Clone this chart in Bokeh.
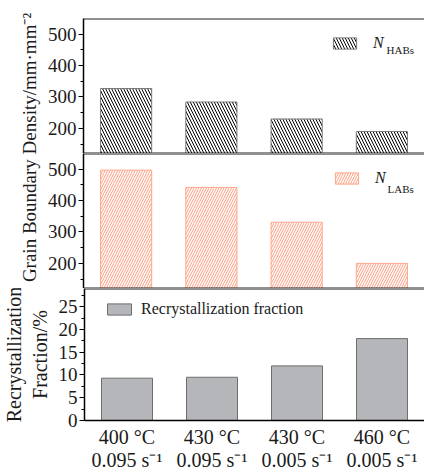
import math
from bokeh.plotting import figure
from bokeh.models import (FactorRange, Range1d, FixedTicker, Span, Legend,
                          LegendItem, Label)
from bokeh.layouts import row, column
from bokeh.embed import file_html
from bokeh.resources import INLINE

# ---------------- data ----------------
temps = ["400 °C", "430 °C", "430 °C", "460 °C"]
rates = ["0.095 s⁻¹", "0.095 s⁻¹", "0.005 s⁻¹", "0.005 s⁻¹"]
n_habs = [327, 284, 230, 190]
n_labs = [497, 442, 331, 200]
rex_fraction = [9.3, 9.5, 12.0, 18.0]

density_ticks = [200, 300, 400, 500]
density_minor = [150, 250, 350, 450]
rex_ticks = [0, 5, 10, 15, 20, 25]
rex_minor = [2.5, 7.5, 12.5, 17.5, 22.5, 27.5]

FONT = "Liberation Serif"
TXT = "#1a1a1a"

factors = [f"{t}\n{r}" for t, r in zip(temps, rates)]
xr = FactorRange(factors=factors, range_padding=0)


def make_panel(width, height, y0, y1, ticks, minor, border_left, border_top,
               border_bottom, with_xaxis):
    p = figure(width=width, height=height, x_range=xr, y_range=Range1d(y0, y1),
               output_backend="svg", toolbar_location=None,
               min_border_left=border_left, min_border_right=0,
               min_border_top=border_top, min_border_bottom=border_bottom,
               outline_line_color=None,
               x_axis_location="below" if with_xaxis else None)
    p.xgrid.visible = False
    p.ygrid.visible = False
    p.background_fill_color = "white"
    ax = p.yaxis[0]
    ax.ticker = FixedTicker(ticks=ticks, minor_ticks=minor)
    ax.axis_line_color = "black"
    ax.axis_line_width = 1.5
    ax.major_tick_in = 0
    ax.major_tick_out = 5
    ax.minor_tick_in = 0
    ax.minor_tick_out = 3
    ax.major_tick_line_color = "black"
    ax.minor_tick_line_color = "black"
    ax.major_label_text_font = FONT
    ax.major_label_text_font_size = "19px"
    ax.major_label_text_color = TXT
    ax.major_label_standoff = 2
    # panel borders
    p.add_layout(Span(location=y1, dimension="width", line_color="#222222",
                      line_width=2))
    if not with_xaxis:
        p.add_layout(Span(location=y0, dimension="width",
                          line_color="#222222", line_width=2))
    return p


# ---------- panel 1 : HABs ----------
p1 = make_panel(380, 153, 120, 550, density_ticks, density_minor, 38, 18, 0,
                False)
r1 = p1.vbar(x=factors, top=n_habs, bottom=0, width=0.6, fill_color="white",
             line_color="#7a7a7a", line_width=1, hatch_pattern="\\",
             hatch_color="black", hatch_scale=6, hatch_weight=1)
leg1 = Legend(items=[LegendItem(label="N", renderers=[r1])],
              location=(247, 101), padding=0, margin=0, spacing=0,
              border_line_color=None, background_fill_alpha=0,
              glyph_width=29, glyph_height=14, label_height=14,
              label_standoff=14, label_text_font=FONT,
              label_text_font_style="italic", label_text_font_size="16px",
              label_text_color=TXT)
p1.add_layout(leg1)
p1.add_layout(Label(x=303, y=104, x_units="screen", y_units="screen",
                    text="HABs", text_font=FONT, text_font_size="11px",
                    text_color=TXT, text_baseline="alphabetic"))

# ---------- panel 2 : LABs ----------
p2 = make_panel(380, 135, 120, 550, density_ticks, density_minor, 38, 0, 0,
                False)
r2 = p2.vbar(x=factors, top=n_labs, bottom=0, width=0.6, fill_color="white",
             line_color="#ffa68c", line_width=1, hatch_pattern="/",
             hatch_color="#ff8a66", hatch_alpha=0.85, hatch_scale=5,
             hatch_weight=1)
leg2 = Legend(items=[LegendItem(label="N", renderers=[r2])],
              location=(249, 101), padding=0, margin=0, spacing=0,
              border_line_color=None, background_fill_alpha=0,
              glyph_width=29, glyph_height=14, label_height=14,
              label_standoff=14, label_text_font=FONT,
              label_text_font_style="italic", label_text_font_size="16px",
              label_text_color=TXT)
p2.add_layout(leg2)
p2.add_layout(Label(x=304, y=100, x_units="screen", y_units="screen",
                    text="LABs", text_font=FONT, text_font_size="11px",
                    text_color=TXT, text_baseline="alphabetic"))

# ---------- panel 3 : recrystallization ----------
p3 = make_panel(424, 185, 0, 29, rex_ticks, rex_minor, 82, 0, 49, True)
r3 = p3.vbar(x=factors, top=rex_fraction, bottom=0, width=0.6,
             fill_color="#b5b6b9", line_color="#6e6e6e", line_width=1)
xa = p3.xaxis[0]
xa.axis_line_color = "black"
xa.axis_line_width = 1.5
xa.major_tick_in = 0
xa.major_tick_out = 0
xa.minor_tick_in = 0
xa.minor_tick_out = 0
xa.major_label_text_font = FONT
xa.major_label_text_font_size = "20px"
xa.major_label_text_color = TXT
xa.major_label_standoff = 5
xa.major_label_text_line_height = 1.05
ya = p3.yaxis[0]
ya.axis_label = "Recrystallization\nFraction/%"
ya.axis_label_text_font = FONT
ya.axis_label_text_font_size = "20px"
ya.axis_label_text_font_style = "normal"
ya.axis_label_text_color = TXT
ya.axis_label_standoff = 5
ya.axis_label_text_line_height = 1.15
leg3 = Legend(items=[LegendItem(label="Recrystallization fraction",
                                renderers=[r3])],
              location=(20, 102), padding=0, margin=0, spacing=0,
              border_line_color=None, background_fill_alpha=0,
              glyph_width=30, glyph_height=14, label_height=14,
              label_standoff=7, label_text_font=FONT,
              label_text_font_size="16px", label_text_color=TXT)
p3.add_layout(leg3)

# ---------- shared y label for panels 1-2 ----------
lab = figure(width=44, height=288, x_range=Range1d(0, 44),
             y_range=Range1d(0, 288), output_backend="svg",
             toolbar_location=None, min_border=0, outline_line_color=None,
             x_axis_location=None, y_axis_location=None)
lab.xgrid.visible = False
lab.ygrid.visible = False
lab.add_layout(Label(x=29, y=141, text="Grain Boundary Density/mm·mm⁻²",
                     angle=math.pi / 2, text_align="center",
                     text_baseline="middle", text_font=FONT,
                     text_font_size="19px", text_color=TXT))

layout = column(row(lab, column(p1, p2, spacing=0), spacing=0), p3,
                spacing=0)

open("out.html", "w").write(file_html(layout, INLINE))
